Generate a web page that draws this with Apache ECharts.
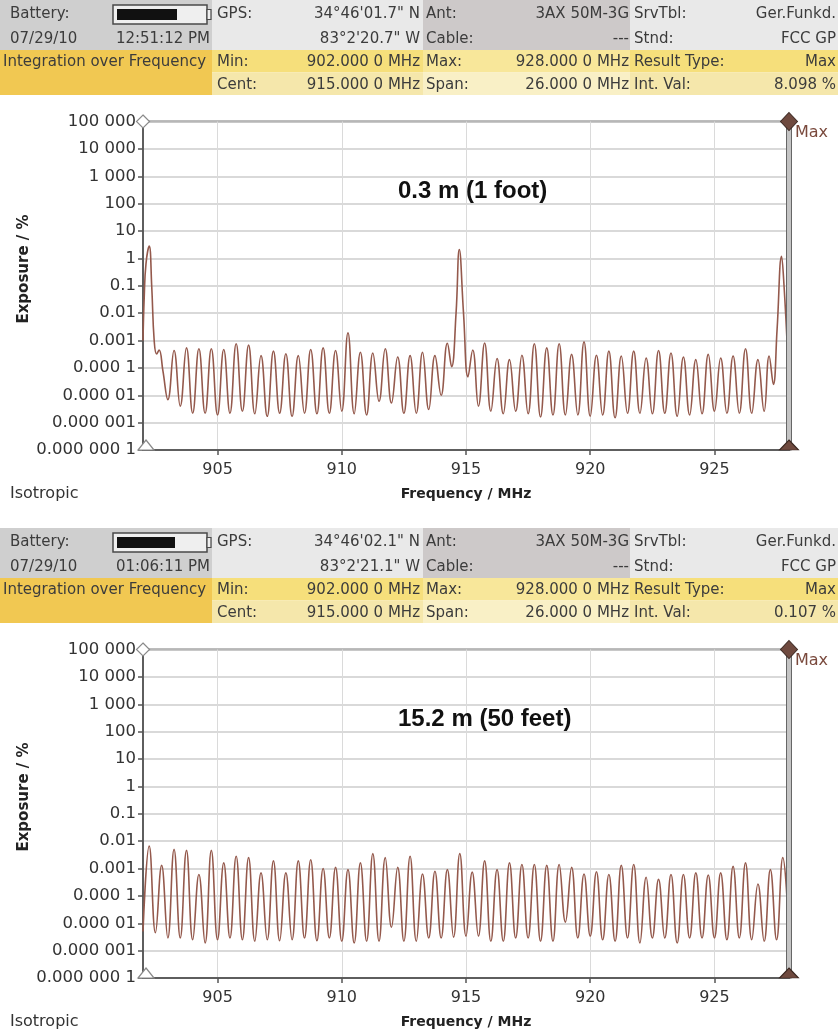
<!DOCTYPE html>
<html>
<head>
<meta charset="utf-8">
<script src="https://cdn.jsdelivr.net/npm/echarts@6/dist/echarts.min.js"></script>
<style>
  html, body { margin: 0; padding: 0; background: #ffffff; }
  #chart { width: 838px; height: 1034px; }
</style>
</head>
<body>
<div id="chart"></div>
<script>
// Exposure (% of limit) versus frequency, isotropic antenna, max hold.
// Near measurement: 0.3 m from the source.
const freqNear = [
  902.00, 902.05, 902.12, 902.25, 902.35, 902.45, 902.55, 902.65, 902.80,
  903.00, 903.25, 903.50, 903.75,
  904.00, 904.25, 904.50, 904.75,
  905.00, 905.25, 905.50, 905.75,
  906.00, 906.25, 906.50, 906.75,
  907.00, 907.25, 907.50, 907.75,
  908.00, 908.25, 908.50, 908.75,
  909.00, 909.25, 909.50, 909.75,
  910.00, 910.25, 910.50, 910.75,
  911.00, 911.25, 911.50, 911.75,
  912.00, 912.25, 912.50, 912.75,
  913.00, 913.25, 913.50, 913.75,
  914.00, 914.25, 914.42, 914.60, 914.73, 914.90,
  915.08, 915.27, 915.50, 915.75,
  916.00, 916.25, 916.50, 916.75,
  917.00, 917.25, 917.50, 917.75,
  918.00, 918.25, 918.50, 918.75,
  919.00, 919.25, 919.50, 919.75,
  920.00, 920.25, 920.50, 920.75,
  921.00, 921.25, 921.50, 921.75,
  922.00, 922.25, 922.50, 922.75,
  923.00, 923.25, 923.50, 923.75,
  924.00, 924.25, 924.50, 924.75,
  925.00, 925.25, 925.50, 925.75,
  926.00, 926.25, 926.50, 926.75,
  927.00, 927.20, 927.37, 927.52, 927.70, 927.80, 927.95
];
const exposureNear = [
  1.0e-3, 4.0e-2, 0.63, 2.8, 0.1, 1.0e-3, 3.2e-4, 4.5e-4, 7.9e-5,
  6.9e-6, 4.3e-4, 4.0e-6, 5.4e-4,
  2.2e-6, 5.0e-4, 2.2e-6, 5.0e-4,
  1.9e-6, 4.7e-4, 2.2e-6, 7.6e-4,
  2.6e-6, 6.8e-4, 2.1e-6, 2.8e-4,
  1.7e-6, 4.1e-4, 2.2e-6, 3.3e-4,
  1.7e-6, 2.8e-4, 2.2e-6, 4.7e-4,
  2.1e-6, 5.4e-4, 2.2e-6, 4.3e-4,
  2.6e-6, 1.9e-3, 2.1e-6, 3.7e-4,
  1.9e-6, 3.5e-4, 6.0e-6, 5.0e-4,
  5.2e-6, 2.5e-4, 2.2e-6, 2.8e-4,
  2.2e-6, 3.7e-4, 3.0e-6, 2.8e-4,
  1.0e-5, 7.9e-4, 1.1e-4, 1.0e-2, 2.1, 1.0e-2,
  4.7e-5, 4.5e-4, 4.0e-6, 8.1e-4,
  2.6e-6, 2.2e-4, 2.1e-6, 2.0e-4,
  2.6e-6, 2.9e-4, 2.1e-6, 7.6e-4,
  1.6e-6, 5.4e-4, 1.9e-6, 7.6e-4,
  1.9e-6, 3.1e-4, 1.9e-6, 8.9e-4,
  1.7e-6, 2.9e-4, 1.9e-6, 4.1e-4,
  1.5e-6, 2.7e-4, 2.2e-6, 4.1e-4,
  2.2e-6, 2.3e-4, 2.1e-6, 4.3e-4,
  2.2e-6, 3.5e-4, 1.7e-6, 2.5e-4,
  1.9e-6, 2.0e-4, 2.1e-6, 3.1e-4,
  2.6e-6, 2.3e-4, 2.2e-6, 2.7e-4,
  2.2e-6, 5.0e-4, 2.2e-6, 2.0e-4,
  2.6e-6, 2.7e-4, 2.5e-5, 2.5e-3, 1.2, 0.1, 2.5e-4
];

// Far measurement: 15.2 m from the source.
const freqFar = [
  902.00, 902.25, 902.50, 902.75,
  903.00, 903.25, 903.50, 903.75,
  904.00, 904.25, 904.50, 904.75,
  905.00, 905.25, 905.50, 905.75,
  906.00, 906.25, 906.50, 906.75,
  907.00, 907.25, 907.50, 907.75,
  908.00, 908.25, 908.50, 908.75,
  909.00, 909.25, 909.50, 909.75,
  910.00, 910.25, 910.50, 910.75,
  911.00, 911.25, 911.50, 911.75,
  912.00, 912.25, 912.50, 912.75,
  913.00, 913.25, 913.50, 913.75,
  914.00, 914.25, 914.50, 914.75,
  915.00, 915.25, 915.50, 915.75,
  916.00, 916.25, 916.50, 916.75,
  917.00, 917.25, 917.50, 917.75,
  918.00, 918.25, 918.50, 918.75,
  919.00, 919.25, 919.50, 919.75,
  920.00, 920.25, 920.50, 920.75,
  921.00, 921.25, 921.50, 921.75,
  922.00, 922.25, 922.50, 922.75,
  923.00, 923.25, 923.50, 923.75,
  924.00, 924.25, 924.50, 924.75,
  925.00, 925.25, 925.50, 925.75,
  926.00, 926.25, 926.50, 926.75,
  927.00, 927.25, 927.50, 927.75,
  928.00
];
const exposureFar = [
  5.0e-6, 6.6e-3, 4.5e-6, 1.3e-3,
  2.9e-6, 5.0e-3, 2.9e-6, 4.6e-3,
  2.5e-6, 6.0e-4, 1.9e-6, 4.6e-3,
  2.5e-6, 1.6e-3, 2.9e-6, 2.8e-3,
  2.5e-6, 2.5e-3, 2.2e-6, 6.9e-4,
  2.5e-6, 1.9e-3, 2.3e-6, 6.9e-4,
  2.5e-6, 1.9e-3, 2.9e-6, 2.1e-3,
  2.3e-6, 1.0e-3, 2.9e-6, 1.1e-3,
  2.2e-6, 9.1e-4, 1.9e-6, 1.6e-3,
  2.2e-6, 3.5e-3, 2.2e-6, 2.5e-3,
  7.1e-6, 1.1e-3, 2.2e-6, 2.8e-3,
  2.2e-6, 6.3e-4, 2.9e-6, 7.9e-4,
  2.9e-6, 9.1e-4, 3.1e-6, 3.5e-3,
  3.4e-6, 7.4e-4, 3.4e-6, 1.9e-3,
  2.2e-6, 9.1e-4, 2.2e-6, 1.6e-3,
  2.9e-6, 1.4e-3, 2.9e-6, 1.4e-3,
  2.2e-6, 1.3e-3, 2.2e-6, 1.4e-3,
  1.1e-5, 1.1e-3, 2.9e-6, 6.3e-4,
  3.4e-6, 7.6e-4, 2.5e-6, 6.0e-4,
  2.2e-6, 1.3e-3, 2.9e-6, 1.4e-3,
  1.9e-6, 4.8e-4, 2.9e-6, 4.0e-4,
  2.9e-6, 6.0e-4, 1.9e-6, 6.0e-4,
  2.9e-6, 6.9e-4, 2.9e-6, 5.8e-4,
  2.9e-6, 6.9e-4, 2.5e-6, 1.2e-3,
  2.9e-6, 1.6e-3, 2.5e-6, 2.7e-4,
  2.2e-6, 9.1e-4, 2.5e-6, 2.5e-3,
  3.5e-6
];

// Axis ticks
const freqTicks = [905, 910, 915, 920, 925];
const exposureTickLabels = [
  '0.000 000 1', '0.000 001', '0.000 01', '0.000 1', '0.001', '0.01', '0.1',
  '1', '10', '100', '1 000', '10 000', '100 000'
];
const panelTitles = ['0.3 m (1 foot)', '15.2 m (50 feet)'];

// Instrument status bars: [label, value] pairs for the four columns of each row
const headerNear = [
  ['Battery:', '', 'GPS:', '34°46\'01.7" N', 'Ant:', '3AX 50M-3G', 'SrvTbl:', 'Ger.Funkd.'],
  ['07/29/10', '12:51:12 PM', '', '83°2\'20.7" W', 'Cable:', '---', 'Stnd:', 'FCC GP'],
  ['Integration over Frequency', '', 'Min:', '902.000 0 MHz', 'Max:', '928.000 0 MHz', 'Result Type:', 'Max'],
  ['', '', 'Cent:', '915.000 0 MHz', 'Span:', '26.000 0 MHz', 'Int. Val:', '8.098 %']
];
const headerFar = [
  ['Battery:', '', 'GPS:', '34°46\'02.1" N', 'Ant:', '3AX 50M-3G', 'SrvTbl:', 'Ger.Funkd.'],
  ['07/29/10', '01:06:11 PM', '', '83°2\'21.1" W', 'Cable:', '---', 'Stnd:', 'FCC GP'],
  ['Integration over Frequency', '', 'Min:', '902.000 0 MHz', 'Max:', '928.000 0 MHz', 'Result Type:', 'Max'],
  ['', '', 'Cent:', '915.000 0 MHz', 'Span:', '26.000 0 MHz', 'Int. Val:', '0.107 %']
];

const FREQ_MIN = 902, FREQ_MAX = 928;
const EXP_MIN_DEC = -7, EXP_MAX_DEC = 5;   // decades shown on the exposure axis

const panels = [
  { freq: freqNear, exposure: exposureNear, title: panelTitles[0], header: headerNear, dy: 0, battery: 60 },
  { freq: freqFar, exposure: exposureFar, title: panelTitles[1], header: headerFar, dy: 528, battery: 58 }
];

const TEXT_FONT = '"DejaVu Sans", sans-serif';
const TRACE_COLOR = '#94594c';
const MARK_BROWN = '#6f4a3f';

const chart = echarts.init(document.getElementById('chart'), null, { renderer: 'canvas' });

const option = {
  animation: false,
  backgroundColor: '#ffffff',
  grid: panels.map(p => ({
    left: 143, right: 49, top: p.dy + 121.5, height: 328.5,
    show: true, borderColor: '#7a7a7a', borderWidth: 2, backgroundColor: 'transparent'
  })),
  xAxis: panels.map((p, i) => ({
    type: 'value', gridIndex: i, min: FREQ_MIN, max: FREQ_MAX, interval: 1,
    axisLine: { show: true, onZero: false, lineStyle: { color: '#5e5e5e', width: 2 } },
    axisTick: { show: true, customValues: freqTicks, length: 5, lineStyle: { color: '#555', width: 1.5 } },
    axisLabel: {
      customValues: freqTicks, margin: 12, color: '#333', fontSize: 16, fontFamily: TEXT_FONT,
      formatter: v => (freqTicks.indexOf(v) >= 0 ? String(v) : '')
    },
    splitLine: { show: true, lineStyle: { color: '#dadada', width: 1 } }
  })),
  yAxis: panels.map((p, i) => ({
    type: 'value', gridIndex: i, min: EXP_MIN_DEC, max: EXP_MAX_DEC, interval: 1,
    axisLine: { show: true, onZero: false, lineStyle: { color: '#5e5e5e', width: 2 } },
    axisTick: { show: true, length: 5, lineStyle: { color: '#555', width: 1.5 } },
    axisLabel: {
      margin: 7, color: '#333', fontSize: 16.5, fontFamily: TEXT_FONT,
      formatter: v => exposureTickLabels[Math.round(v) - EXP_MIN_DEC]
    },
    splitLine: { show: true, lineStyle: { color: '#cdcdcd', width: 1.5 } }
  })),
  series: panels.map((p, i) => ({
    type: 'line', xAxisIndex: i, yAxisIndex: i,
    data: p.freq.map((f, k) => [f, Math.log10(p.exposure[k])]),
    showSymbol: false, smooth: 0.45, silent: true,
    lineStyle: { color: TRACE_COLOR, width: 1.6 },
    markPoint: {
      silent: true, label: { show: false },
      data: [
        { coord: [FREQ_MIN, EXP_MAX_DEC], symbol: 'diamond', symbolSize: [13, 13],
          itemStyle: { color: '#ffffff', borderColor: '#8a8a8a', borderWidth: 1.2 } },
        { coord: [FREQ_MIN, EXP_MIN_DEC], symbol: 'triangle', symbolSize: [16, 10], symbolOffset: [3, -5],
          itemStyle: { color: '#ffffff', borderColor: '#8a8a8a', borderWidth: 1.2 } },
        { coord: [FREQ_MAX, EXP_MAX_DEC], symbol: 'diamond', symbolSize: [17, 18],
          itemStyle: { color: MARK_BROWN, borderColor: '#3a2720', borderWidth: 1 } },
        { coord: [FREQ_MAX, EXP_MIN_DEC], symbol: 'triangle', symbolSize: [19, 10], symbolOffset: [0, -5],
          itemStyle: { color: MARK_BROWN, borderColor: '#3a2720', borderWidth: 1 } }
      ]
    }
  }))
};

chart.setOption(option);

// ---- static decorations: status bars, titles, axis names ----
function rect(x, y, w, h, fill, extra) {
  return Object.assign({ type: 'rect', shape: { x, y, width: w, height: h }, style: { fill }, silent: true }, extra || {});
}
function text(x, y, str, font, fill, align, extra) {
  return Object.assign({
    type: 'text', x, y, silent: true,
    style: { text: str, font, fill, align: align || 'left', verticalAlign: 'middle' }
  }, extra || {});
}

const labelX = [10, 217, 426, 634];
const valueX = [210, 420, 629, 836];
const rowY = [14.5, 39.5, 62.5, 85];

function headerElements(p) {
  const dy = p.dy;
  const els = [
    rect(0, dy, 212, 50, '#cfcfcf'),
    rect(212, dy, 211, 50, '#e9e9e9'),
    rect(423, dy, 207, 50, '#cdc9c9'),
    rect(630, dy, 208, 50, '#e9e9e9'),
    rect(0, dy + 50, 212, 45, '#f1c852'),
    rect(212, dy + 50, 211, 22.5, '#f6df7b'),
    rect(423, dy + 50, 207, 22.5, '#f8e79a'),
    rect(630, dy + 50, 208, 22.5, '#f6df7b'),
    rect(212, dy + 72.5, 211, 22.5, '#f5e7ab'),
    rect(423, dy + 72.5, 207, 22.5, '#f9f0c6'),
    rect(630, dy + 72.5, 208, 22.5, '#f5e7ab'),
    // battery gauge
    rect(113, dy + 5, 94, 19, '#efefef', { style: { fill: '#efefef', stroke: '#4a4a4a', lineWidth: 1.5 } }),
    rect(117, dy + 9, p.battery, 11, '#111111'),
    rect(207, dy + 9.5, 4, 10, '#efefef', { style: { fill: '#efefef', stroke: '#4a4a4a', lineWidth: 1.2 } })
  ];
  const font = '15px ' + TEXT_FONT;
  p.header.forEach((row, r) => {
    for (let c = 0; c < 4; c++) {
      const lab = row[2 * c], val = row[2 * c + 1];
      if (lab) els.push(text(r === 2 && c === 0 ? 3 : labelX[c], dy + rowY[r], lab, font, '#3c3c3c', 'left'));
      if (val) els.push(text(valueX[c], dy + rowY[r], val, font, '#3c3c3c', 'right'));
    }
  });
  return els;
}

const graphics = [];
panels.forEach((p, i) => {
  headerElements(p).forEach(e => graphics.push(e));
  const dy = p.dy;
  graphics.push(text(398, dy + 191, p.title, 'bold 24px "Liberation Sans", Arial, sans-serif', '#111', 'left'));
  graphics.push(text(24, dy + 269, 'Exposure / %', 'bold 15px ' + TEXT_FONT, '#222', 'center', { rotation: Math.PI / 2 }));
  graphics.push(text(466, dy + 494, 'Frequency / MHz', 'bold 14px ' + TEXT_FONT, '#222', 'center'));
  graphics.push(text(10, dy + 494, 'Isotropic', '16px ' + TEXT_FONT, '#333', 'left'));
  graphics.push(text(795, dy + 133, 'Max', '16px ' + TEXT_FONT, '#7a4a3d', 'left'));
  // right-hand frame bar at the end of the span
  const top = chart.convertToPixel({ gridIndex: i }, [FREQ_MAX, EXP_MAX_DEC]);
  const bot = chart.convertToPixel({ gridIndex: i }, [FREQ_MAX, EXP_MIN_DEC]);
  graphics.push({
    type: 'rect', silent: true, z: 4,
    shape: { x: top[0] - 2.5, y: top[1], width: 5, height: bot[1] - top[1] },
    style: { fill: '#c4c4c4', stroke: '#666666', lineWidth: 1 }
  });
});

chart.setOption({ graphic: graphics });
</script>
</body>
</html>
